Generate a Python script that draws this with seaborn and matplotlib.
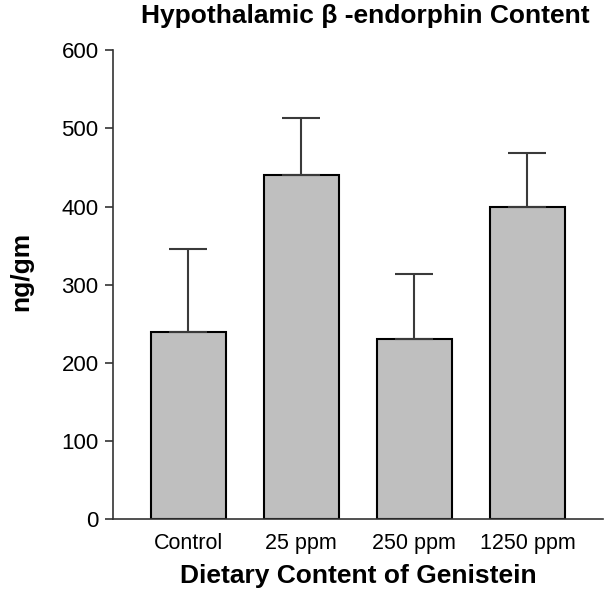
import matplotlib
matplotlib.use("Agg")
import matplotlib.pyplot as plt
import seaborn as sns
import pandas as pd

groups = ["Control", "25 ppm", "250 ppm", "1250 ppm"]
means = [240, 440, 231, 400]
upper_err = [106, 73, 83, 68]

sns.set_style("ticks")
plt.rcParams["font.family"] = ["Liberation Sans", "DejaVu Sans"]
plt.rcParams["text.color"] = "black"
plt.rcParams["axes.labelcolor"] = "black"
plt.rcParams["xtick.color"] = "black"
plt.rcParams["ytick.color"] = "black"

df = pd.DataFrame({"group": groups, "value": means})

fig = plt.figure(figsize=(6.05, 5.92), dpi=100)
ax = fig.add_axes([0.187, 0.123, 0.81, 0.792])

sns.barplot(data=df, x="group", y="value", color="#bfbfbf", edgecolor="black",
            linewidth=1.5, width=0.66, saturation=1, errorbar=None, ax=ax)
ax.errorbar(range(len(groups)), means, yerr=[[0] * len(groups), upper_err],
            fmt="none", ecolor="#3a3a3a", elinewidth=1.5, capsize=14, capthick=1.5,
            zorder=1)

ax.set_xlim(-0.665, 3.67)
ax.set_ylim(0, 600)
ax.set_yticks(range(0, 601, 100))
ax.tick_params(axis="y", labelsize=16, length=6, width=1.2, color="#333333", pad=4.5)
ax.tick_params(axis="x", labelsize=15.5, length=0, pad=10)
sns.despine(ax=ax)
for side in ["left", "bottom"]:
    ax.spines[side].set_color("#333333")
    ax.spines[side].set_linewidth(1.2)

ax.set_xlabel("Dietary Content of Genistein", fontsize=19, fontweight="bold", labelpad=7)
ax.set_ylabel("ng/gm", fontsize=19, fontweight="bold")
ax.yaxis.set_label_coords(-0.163, 0.529)
ax.set_title("Hypothalamic β -endorphin Content", fontsize=19, fontweight="bold",
             x=0.514, pad=20)

fig.savefig("out.png", dpi=100)
